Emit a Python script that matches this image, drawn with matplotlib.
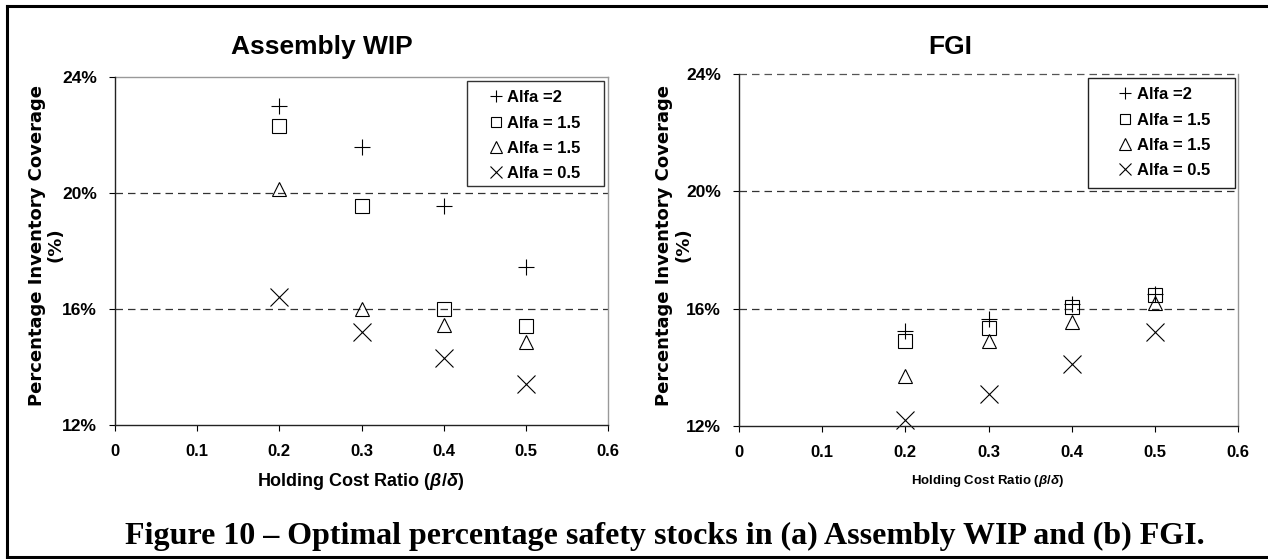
import matplotlib.pyplot as plt
from matplotlib.lines import Line2D
from matplotlib.patches import Rectangle
import matplotlib.ticker as mticker

plt.rcParams['font.family'] = ['Liberation Sans', 'DejaVu Sans']
plt.rcParams['mathtext.fontset'] = 'custom'
plt.rcParams['mathtext.rm'] = 'Liberation Sans:bold'
plt.rcParams['mathtext.it'] = 'Liberation Sans:bold:italic'

# holding cost ratio
x = [0.2, 0.3, 0.4, 0.5]
labels = ['Alfa =2', 'Alfa = 1.5', 'Alfa = 1.5', 'Alfa = 0.5']

# Assembly WIP (%)
wip_a2 = [23.0, 21.6, 19.55, 17.45]
wip_a15_sq = [22.3, 19.55, 16.0, 15.4]
wip_a15_tri = [20.15, 16.0, 15.45, 14.85]
wip_a05 = [16.4, 15.2, 14.3, 13.4]

# FGI (%)
fgi_a2 = [15.25, 15.65, 16.15, 16.5]
fgi_a15_sq = [14.9, 15.35, 16.05, 16.45]
fgi_a15_tri = [13.7, 14.9, 15.55, 16.2]
fgi_a05 = [12.2, 13.1, 14.1, 15.2]

W, H = 1268, 559
fig = plt.figure(figsize=(W / 100, H / 100), dpi=100)

# marker, size in plot, size in legend
styles = [('+', 11, 8.5), ('s', 9.5, 7.2), ('^', 10, 8.5), ('x', 12.5, 9)]


def fx(px):
    return px / W


def fy(py):
    return 1 - py / H


def panel(rect, series, title, title_x, xlab_size, xlab_x, ylab_x, top_dashed):
    ax = fig.add_axes(rect)
    for (m, ms, _), ys in zip(styles, series):
        ax.plot(x, ys, linestyle='none', marker=m, markersize=ms,
                markerfacecolor='none', markeredgecolor='black',
                markeredgewidth=0.8, clip_on=False)
    ax.set_xlim(0, 0.6)
    ax.set_ylim(12, 24)
    ax.set_xticks([0, 0.1, 0.2, 0.3, 0.4, 0.5, 0.6])
    ax.set_xticklabels(['0', '0.1', '0.2', '0.3', '0.4', '0.5', '0.6'])
    ax.set_yticks([12, 16, 20, 24])
    ax.yaxis.set_major_formatter(mticker.FuncFormatter(lambda v, p: '%d%%' % v))
    ax.tick_params(axis='x', direction='out', length=4, width=0.8, pad=10,
                   labelsize=12)
    ax.tick_params(axis='y', direction='out', length=4, width=0.8, pad=9,
                   labelsize=12.5)
    for lab in ax.get_xticklabels() + ax.get_yticklabels():
        lab.set_fontweight('bold')
    for s in ['left', 'bottom']:
        ax.spines[s].set_linewidth(1.0)
        ax.spines[s].set_color('#222222')
    ax.spines['right'].set_color('#999999')
    ax.spines['right'].set_linewidth(1.0)
    ax.spines['top'].set_visible(False)
    for yv in [16, 20]:
        ax.axhline(yv, color='#333333', lw=0.9, ls=(0, (6, 4)), zorder=0)
    if top_dashed:
        ax.axhline(24, color='#555555', lw=0.9, ls=(0, (6, 4)), zorder=0, clip_on=False)
    else:
        ax.axhline(24, color='#999999', lw=1.0, zorder=0, clip_on=False)

    handles = [Line2D([], [], linestyle='none', marker=m, markersize=ls,
                      markerfacecolor='none', markeredgecolor='black',
                      markeredgewidth=0.8) for m, _, ls in styles]
    ax.legend(handles, labels, loc='upper right', bbox_to_anchor=(0.975, 1.005),
              frameon=False, prop={'weight': 'bold', 'size': 12},
              handlelength=0.7, handletextpad=0.35, labelspacing=0.62,
              borderpad=0.4)

    fig.text(fx(title_x), fy(47), title, ha='center', va='center',
             fontsize=19, fontweight='bold')
    fig.text(fx(xlab_x), fy(481), r'Holding Cost Ratio ($\beta/\delta$)',
             ha='center', va='center', fontsize=xlab_size, fontweight='bold')
    fig.text(fx(ylab_x), fy(245), 'Percentage Inventory Coverage',
             rotation=90, ha='center', va='center', fontsize=13,
             fontweight='bold', family='DejaVu Sans')
    fig.text(fx(ylab_x + 19), fy(245), '(%)',
             rotation=90, ha='center', va='center', fontsize=13,
             fontweight='bold', family='DejaVu Sans')
    return ax


ax1 = panel([fx(115), fy(425), fx(608 - 115), (425 - 77) / H],
            [wip_a2, wip_a15_sq, wip_a15_tri, wip_a05],
            'Assembly WIP', 322, 13, 361, 37, False)
ax2 = panel([fx(739), fy(426), fx(1238 - 739), (426 - 74) / H],
            [fgi_a2, fgi_a15_sq, fgi_a15_tri, fgi_a05],
            'FGI', 950, 9.5, 988, 664, True)

# legend frames
fig.add_artist(Rectangle((fx(467), fy(186)), fx(604 - 467), (186 - 81) / H,
                         transform=fig.transFigure, fill=False,
                         edgecolor='#333333', lw=1.0))
fig.add_artist(Rectangle((fx(1088), fy(188)), fx(1235 - 1088), (188 - 78) / H,
                         transform=fig.transFigure, fill=False,
                         edgecolor='#222222', lw=1.0))

# page frame (open on the right)
fig.add_artist(Line2D([fx(7), 1], [fy(6), fy(6)], transform=fig.transFigure,
                      color='black', lw=2.2))
fig.add_artist(Line2D([fx(7), fx(7)], [fy(6), fy(557)], transform=fig.transFigure,
                      color='black', lw=2.2))
fig.add_artist(Line2D([fx(7), 1], [fy(557), fy(557)], transform=fig.transFigure,
                      color='black', lw=2.2))

fig.text(fx(665), fy(536),
         'Figure 10 \u2013 Optimal percentage safety stocks in (a) Assembly WIP and (b) FGI.',
         ha='center', va='center', fontsize=23, fontweight='bold',
         family='Liberation Serif')

fig.savefig('out.png', dpi=100)
